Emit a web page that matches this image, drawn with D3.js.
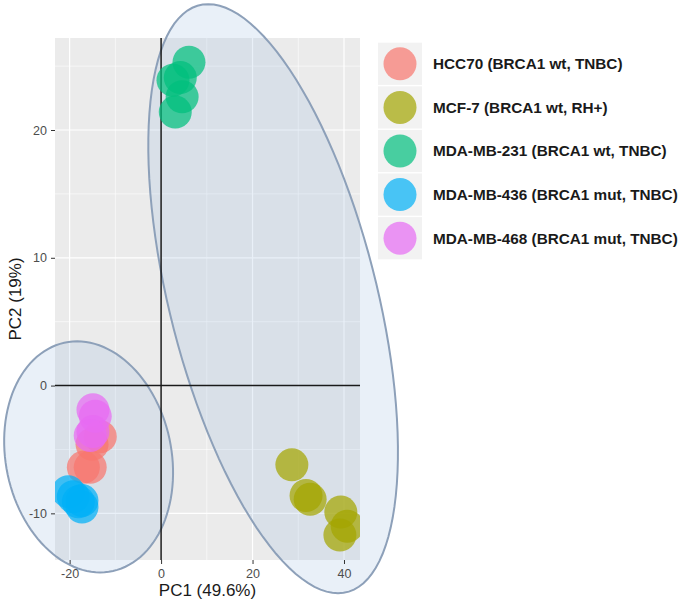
<!DOCTYPE html>
<html>
<head>
<meta charset="utf-8">
<script src="https://cdn.jsdelivr.net/npm/d3@7"></script>
<style>
  body { margin: 0; background: #fff; }
  svg { display: block; font-family: "Liberation Sans", Arial, sans-serif; }
</style>
</head>
<body>
<svg id="chart" width="685" height="604"></svg>
<script>
// cell lines and colours
var groups = ["HCC70 (BRCA1 wt, TNBC)", "MCF-7 (BRCA1 wt, RH+)", "MDA-MB-231 (BRCA1 wt, TNBC)",
              "MDA-MB-436 (BRCA1 mut, TNBC)", "MDA-MB-468 (BRCA1 mut, TNBC)"];
var colors = ["#F8766D", "#A3A500", "#00BF7D", "#00B0F6", "#E76BF3"];

// samples (group index, PC1, PC2)
var sampleGroup = [0, 0, 0, 0,
                   1, 1, 1, 1, 1, 1,
                   2, 2, 2, 2, 2,
                   3, 3, 3, 3, 3,
                   4, 4, 4, 4];
var pc1 = [-13.3, -15.1, -17.0, -15.5,
           28.6, 31.7, 32.6, 39.3, 40.7, 39.1,
           6.1, 4.2, 2.6, 4.6, 3.1,
           -20.3, -19.2, -17.3, -17.3, -18.1,
           -14.9, -14.4, -14.9, -15.5];
var pc2 = [-4.0, -4.6, -6.4, -6.4,
           -6.2, -8.6, -8.9, -9.9, -11.0, -11.7,
           25.3, 24.1, 23.9, 22.6, 21.4,
           -8.3, -8.7, -9.0, -9.5, -9.1,
           -1.9, -2.4, -3.6, -3.9];

// axis ticks
var xTicks = [-20, 0, 20, 40];
var yTicks = [-10, 0, 10, 20];
var xMinor = [-10, 10, 30];
var yMinor = [-5, 5, 15, 25];

// cluster ellipses in data units: centre, half width, half height, x offset of top point
var ellCx = [-15.85, 24.5];
var ellCy = [-5.58, 6.8];
var ellHalfW = [18.47, 27.3];
var ellHalfH = [9.04, 23.05];
var ellTopDx = [-2.51, -14.2];

var svg = d3.select("#chart");
var pLeft = 55, pRight = 360, pTop = 38, pBottom = 560;

var x = d3.scaleLinear().domain([-23.2, 43.5]).range([pLeft, pRight]);
var y = d3.scaleLinear().domain([-13.65, 27.2]).range([pBottom, pTop]);

svg.append("clipPath").attr("id", "panelClip")
   .append("rect").attr("x", pLeft).attr("y", pTop)
   .attr("width", pRight - pLeft).attr("height", pBottom - pTop);

// panel background
svg.append("rect").attr("x", pLeft).attr("y", pTop)
   .attr("width", pRight - pLeft).attr("height", pBottom - pTop)
   .attr("fill", "#EBEBEB");

// grid lines
var grid = svg.append("g");
grid.selectAll(".vminor").data(xMinor).enter().append("line")
    .attr("x1", d => x(d)).attr("x2", d => x(d)).attr("y1", pTop).attr("y2", pBottom)
    .attr("stroke", "#fff").attr("stroke-width", 0.6);
grid.selectAll(".hminor").data(yMinor).enter().append("line")
    .attr("y1", d => y(d)).attr("y2", d => y(d)).attr("x1", pLeft).attr("x2", pRight)
    .attr("stroke", "#fff").attr("stroke-width", 0.6);
grid.selectAll(".vmajor").data(xTicks).enter().append("line")
    .attr("x1", d => x(d)).attr("x2", d => x(d)).attr("y1", pTop).attr("y2", pBottom)
    .attr("stroke", "#fff").attr("stroke-width", 1.2);
grid.selectAll(".hmajor").data(yTicks).enter().append("line")
    .attr("y1", d => y(d)).attr("y2", d => y(d)).attr("x1", pLeft).attr("x2", pRight)
    .attr("stroke", "#fff").attr("stroke-width", 1.2);

// ellipse path from centre, half sizes and top offset
function ellipsePath(i){
    var cx = x(ellCx[i]), cy = y(ellCy[i]);
    var hw = x(ellCx[i] + ellHalfW[i]) - cx;
    var hh = cy - y(ellCy[i] + ellHalfH[i]);
    var d = x(ellCx[i] + ellTopDx[i]) - cx;
    var w = Math.sqrt(hw * hw - d * d);
    var pts = d3.range(0, 361, 3).map(function(a){
        var t = a * Math.PI / 180;
        return [cx - d * Math.sin(t) + w * Math.cos(t), cy + hh * Math.sin(t)];
    });
    return d3.line()(pts) + "Z";
}

svg.selectAll(".ell").data([0, 1]).enter().append("path")
   .attr("d", d => ellipsePath(d))
   .attr("fill", "#9BBBDF").attr("fill-opacity", 0.22)
   .attr("stroke", "#8DA0B9").attr("stroke-width", 2);

// axes (ticks + labels only)
var xAxis = svg.append("g").attr("transform", "translate(0," + pBottom + ")")
    .call(d3.axisBottom(x).tickValues(xTicks).tickSize(4).tickPadding(5).tickFormat(d => String(d)));
var yAxis = svg.append("g").attr("transform", "translate(" + pLeft + ",0)")
    .call(d3.axisLeft(y).tickValues(yTicks).tickSize(4).tickPadding(4).tickFormat(d => String(d)));
[xAxis, yAxis].forEach(function(a){
    a.select(".domain").remove();
    a.selectAll(".tick line").attr("stroke", "#333");
    a.selectAll(".tick text").attr("fill", "#4D4D4D")
     .style("font-size", "12.5px").style("font-family", "Liberation Sans, Arial, sans-serif");
});

// zero lines
svg.append("line").attr("x1", x(0)).attr("x2", x(0)).attr("y1", pTop).attr("y2", pBottom)
   .attr("stroke", "#1a1a1a").attr("stroke-width", 1.5);
svg.append("line").attr("x1", pLeft).attr("x2", pRight).attr("y1", y(0)).attr("y2", y(0))
   .attr("stroke", "#1a1a1a").attr("stroke-width", 1.5);

// points
svg.append("g").attr("clip-path", "url(#panelClip)")
   .selectAll("circle").data(d3.range(pc1.length)).enter().append("circle")
   .attr("cx", i => x(pc1[i])).attr("cy", i => y(pc2[i])).attr("r", 16.5)
   .attr("fill", i => colors[sampleGroup[i]]).attr("fill-opacity", 0.72);

// axis titles
svg.append("text").attr("x", (pLeft + pRight) / 2).attr("y", 596)
   .attr("text-anchor", "middle").attr("fill", "#1a1a1a").style("font-size", "17px")
   .text("PC1 (49.6%)");
svg.append("text").attr("transform", "translate(21," + ((pTop + pBottom) / 2) + ") rotate(-90)")
   .attr("text-anchor", "middle").attr("fill", "#1a1a1a").style("font-size", "17px")
   .text("PC2 (19%)");

// legend
var keyH = 43.6, legTop = 42, keyX = 378;
var legend = svg.append("g");
var rows = legend.selectAll("g").data(groups).enter().append("g")
   .attr("transform", (d, i) => "translate(" + keyX + "," + (legTop + i * keyH) + ")");
rows.append("rect").attr("x", 0).attr("y", 0.7).attr("width", 44).attr("height", keyH - 1.4)
   .attr("fill", "#F2F2F2");
rows.append("circle").attr("cx", 22).attr("cy", keyH / 2).attr("r", 16.5)
   .attr("fill", (d, i) => colors[i]).attr("fill-opacity", 0.7);
rows.append("text").attr("x", 55).attr("y", keyH / 2).attr("dy", "0.36em")
   .attr("fill", "#1a1a1a").style("font-size", "15.3px").style("font-weight", "bold")
   .text(d => d);
</script>
</body>
</html>
